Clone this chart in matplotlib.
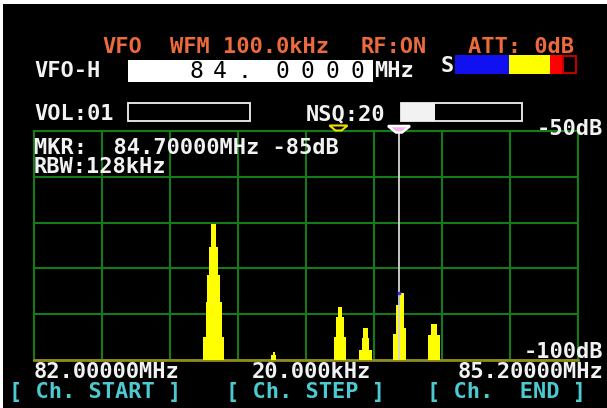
import numpy as np
import matplotlib
matplotlib.use("Agg")
import matplotlib.pyplot as plt
from matplotlib.patches import Rectangle, Polygon

# receiver state shown on the screen
span_start_mhz = 82.0
span_end_mhz = 85.2
step_khz = 20.0
ref_top_db = -50
ref_bottom_db = -100
freq_divs = 8
level_divs = 5

vfo_digits_left = ["8", "4", "."]
vfo_digits_right = ["0", "0", "0", "0"]
header_items = ["VFO", "WFM 100.0kHz", "RF:ON", "ATT: 0dB"]
header_x = [102, 170, 361, 468]
softkeys = ["[ Ch. START ]", "[ Ch. STEP ]", "[ Ch.  END ]"]
softkey_x = [9, 226, 427]
mkr_text = "MKR:  84.70000MHz -85dB"
rbw_text = "RBW:128kHz"
vol_text = "VOL:01"
nsq_text = "NSQ:20"

marker_pos_mhz = 84.147   # where the marker line sits on the trace
sq_marker_mhz = 83.791    # yellow hollow marker
marker_peak_db = -85.4

step_freq = [83.056, 83.056, 83.056, 83.056, 83.056,
             83.409, 83.409,
             83.800, 83.800, 83.800,
             83.950, 83.950, 83.950,
             84.150, 84.162, 84.141, 84.165,
             84.353, 84.353]
step_width = [0.124, 0.094, 0.075, 0.053, 0.029,
              0.029, 0.012,
              0.075, 0.047, 0.029,
              0.071, 0.047, 0.029,
              0.076, 0.053, 0.024, 0.024,
              0.071, 0.035]
step_level = [-94.9, -87.3, -81.4, -75.3, -70.3,
              -99.0, -98.3,
              -95.0, -90.6, -88.4,
              -97.8, -95.2, -93.0,
              -94.3, -93.0, -88.0, -85.4,
              -94.5, -92.2]

W, H = 607, 408
white = '#f2f2f2'
orange = '#ec6a3c'
cyan = '#4ccad2'
green = '#167a16'
olive = '#8f8a1e'
font = dict(family='DejaVu Sans Mono', weight='bold', size=15.8)

fig = plt.figure(figsize=(W / 100, H / 100), dpi=100, facecolor='black')

# ---- spectrum ----
ax = fig.add_axes([34 / W, (H - 360) / H, 544 / W, 229 / H], zorder=1)
ax.set_facecolor('none')
ax.set_xlim(span_start_mhz, span_end_mhz)
ax.set_ylim(ref_bottom_db, ref_top_db)
ax.set_xticks(np.linspace(span_start_mhz, span_end_mhz, freq_divs + 1))
ax.set_yticks(np.linspace(ref_bottom_db, ref_top_db, level_divs + 1))
ax.tick_params(length=0, labelbottom=False, labelleft=False)
ax.grid(True, color=green, lw=1.5)
ax.set_axisbelow(True)
for s in ['top', 'left', 'right']:
    ax.spines[s].set_color(green)
    ax.spines[s].set_linewidth(1.5)
ax.spines['bottom'].set_color(olive)
ax.spines['bottom'].set_linewidth(2)

heights = [lv - ref_bottom_db for lv in step_level]
ax.bar(step_freq, heights, width=step_width, bottom=ref_bottom_db,
       color='#ffff00', edgecolor='none', zorder=3)

ax.plot([marker_pos_mhz, marker_pos_mhz], [ref_bottom_db, ref_top_db],
        color='#d6d6d6', lw=1.3, zorder=4)
ax.plot([marker_pos_mhz], [marker_peak_db], 's', color='#3030ff', ms=1.5, zorder=5)

px_x = (span_end_mhz - span_start_mhz) / 544
px_y = (ref_top_db - ref_bottom_db) / 229
c = marker_pos_mhz
ax.add_patch(Polygon([(c - 11 * px_x, ref_top_db + 5 * px_y), (c + 11 * px_x, ref_top_db + 5 * px_y),
                      (c + 3 * px_x, ref_top_db - 1.5 * px_y), (c - 3 * px_x, ref_top_db - 1.5 * px_y)],
                     closed=True, facecolor='#f4b0ea', edgecolor='white', lw=1.8,
                     clip_on=False, zorder=6))
c = sq_marker_mhz
ax.add_patch(Polygon([(c - 9 * px_x, ref_top_db + 5.5 * px_y), (c + 9 * px_x, ref_top_db + 5.5 * px_y),
                      (c + 3 * px_x, ref_top_db + 0.5 * px_y), (c - 3 * px_x, ref_top_db + 0.5 * px_y)],
                     closed=True, facecolor='black', edgecolor='#f0e000', lw=1.5,
                     clip_on=False, zorder=6))

# ---- screen furniture and text (pixel coordinates) ----
ui = fig.add_axes([0, 0, 1, 1], zorder=2)
ui.set_facecolor('none')
ui.set_xlim(0, W)
ui.set_ylim(H, 0)
ui.axis('off')

ui.add_patch(Rectangle((0, 0), W, 4, color='white', lw=0))
ui.add_patch(Rectangle((0, 0), 3, H, color='white', lw=0))

for txt, x in zip(header_items, header_x):
    ui.text(x, 53, txt, color=orange, va='baseline', ha='left', **font)

ui.text(34, 77, "VFO-H", color=white, va='baseline', ha='left', **font)
ui.add_patch(Rectangle((128, 60), 245, 22, facecolor='white', edgecolor='none'))
for i, ch in enumerate(vfo_digits_left):
    ui.text(196 + i * 24, 77.5, ch, color='black', va='baseline', ha='center',
            family='DejaVu Sans Mono', size=16.5)
for i, ch in enumerate(vfo_digits_right):
    ui.text(282 + i * 25, 77.5, ch, color='black', va='baseline', ha='center',
            family='DejaVu Sans Mono', size=16.5)
ui.text(374, 77, "MHz", color=white, va='baseline', ha='left', **font)

# S meter
ui.text(441, 72, "S", color=white, va='baseline', ha='left', **font)
ui.add_patch(Rectangle((455, 55), 54, 19, facecolor='#1010f0', edgecolor='none'))
ui.add_patch(Rectangle((509, 55), 41, 19, facecolor='#ffff00', edgecolor='none'))
ui.add_patch(Rectangle((550, 55), 13, 19, facecolor='#ff0000', edgecolor='none'))
ui.add_patch(Rectangle((563, 56), 13, 17, facecolor='black', edgecolor='#c00000', lw=1.5))

ui.text(34, 120, vol_text, color=white, va='baseline', ha='left', **font)
ui.add_patch(Rectangle((128, 103), 122, 18, facecolor='black', edgecolor=white, lw=1.3))
ui.text(306, 120, nsq_text, color=white, va='baseline', ha='left', **font)
ui.add_patch(Rectangle((401, 103), 121, 18, facecolor='black', edgecolor=white, lw=1.3))
ui.add_patch(Rectangle((401, 103), 34, 18, facecolor=white, edgecolor='none'))

ui.text(603, 135, f"{ref_top_db}dB", color=white, va='baseline', ha='right', **font)
ui.text(603, 358, f"{ref_bottom_db}dB", color=white, va='baseline', ha='right', **font)

ui.text(34, 154, mkr_text, color=white, va='baseline', ha='left', **font)
ui.text(34, 173, rbw_text, color=white, va='baseline', ha='left', **font)

ui.text(34, 378, f"{span_start_mhz:.5f}MHz", color=white, va='baseline', ha='left', **font)
ui.text(252, 378, f"{step_khz:.3f}kHz", color=white, va='baseline', ha='left', **font)
ui.text(603, 378, f"{span_end_mhz:.5f}MHz", color=white, va='baseline', ha='right', **font)

for txt, x in zip(softkeys, softkey_x):
    ui.text(x, 398, txt, color=cyan, va='baseline', ha='left', **font)

fig.savefig('out.png', dpi=100, facecolor='black')
